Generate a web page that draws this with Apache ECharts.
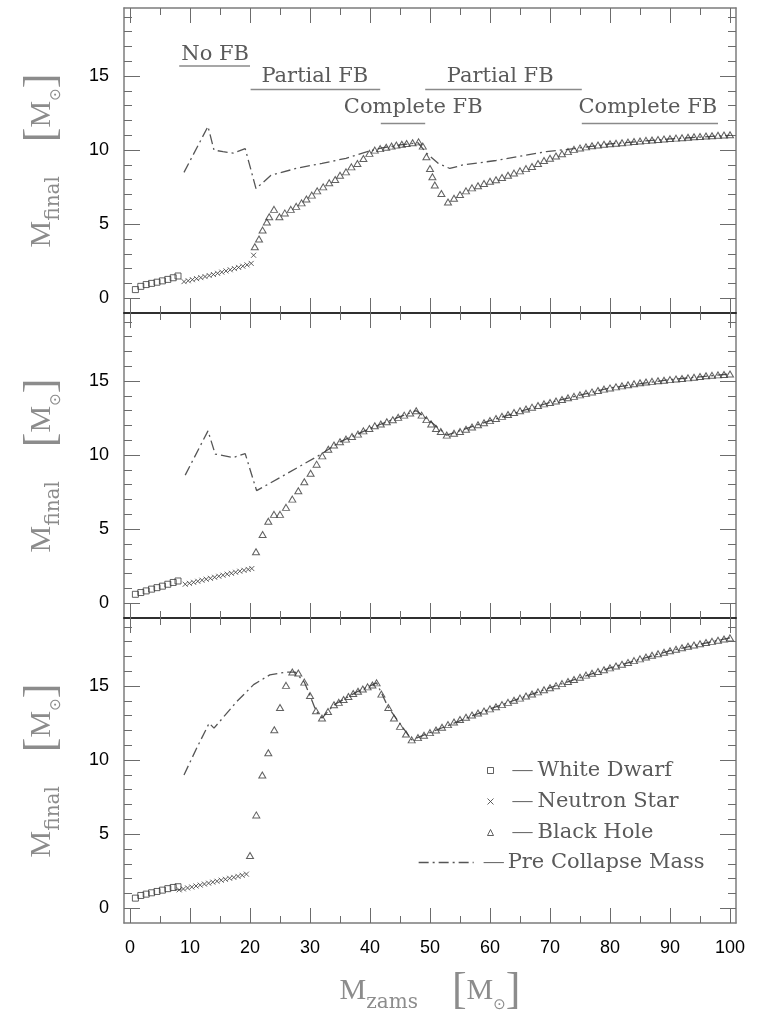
<!DOCTYPE html>
<html><head><meta charset="utf-8">
<script src="https://cdn.jsdelivr.net/npm/echarts@6/dist/echarts.min.js"></script>
<style>html,body{margin:0;padding:0;background:#fff}#c{width:761px;height:1021px}</style>
</head><body><div id="c"></div><script>
// ---------- axis ticks / labels ----------
const xMajor = [0, 10, 20, 30, 40, 50, 60, 70, 80, 90, 100];
const xMinor = [5, 15, 25, 35, 45, 55, 65, 75, 85, 95];
const yMajor = [0, 5, 10, 15];
const yMinor = [1, 2, 3, 4, 6, 7, 8, 9, 11, 12, 13, 14, 16, 17, 18, 19];

// ---------- white dwarfs ----------
const wdX = [0.9, 1.8, 2.7, 3.6, 4.5, 5.4, 6.3, 7.2, 8.0];
const wdTopY = [0.58, 0.80, 0.92, 1.00, 1.08, 1.17, 1.27, 1.38, 1.50];
const wdMidY = [0.60, 0.72, 0.83, 0.95, 1.05, 1.15, 1.28, 1.40, 1.50];
const wdBotY = [0.68, 0.86, 0.95, 1.04, 1.13, 1.22, 1.32, 1.40, 1.45];

// ---------- neutron stars ----------
const nsTopX = [9.0, 9.7, 10.4, 11.1, 11.8, 12.5, 13.2, 13.9, 14.6, 15.3, 16.0, 16.7, 17.4, 18.1, 18.8, 19.5, 20.2, 20.6];
const nsTopY = [1.12, 1.18, 1.25, 1.32, 1.39, 1.46, 1.53, 1.60, 1.68, 1.76, 1.84, 1.92, 2.00, 2.08, 2.16, 2.25, 2.35, 2.90];
const nsMidX = [9.2, 9.9, 10.6, 11.3, 12.0, 12.7, 13.4, 14.1, 14.8, 15.5, 16.2, 16.9, 17.6, 18.3, 19.0, 19.7, 20.3];
const nsMidY = [1.28, 1.34, 1.41, 1.48, 1.55, 1.62, 1.68, 1.75, 1.82, 1.89, 1.96, 2.02, 2.09, 2.16, 2.22, 2.28, 2.34];
const nsBotX = [8.2, 8.9, 9.6, 10.3, 11.0, 11.7, 12.4, 13.1, 13.8, 14.5, 15.2, 15.9, 16.6, 17.3, 18.0, 18.7, 19.4];
const nsBotY = [1.24, 1.30, 1.37, 1.43, 1.50, 1.56, 1.63, 1.69, 1.76, 1.82, 1.89, 1.95, 2.02, 2.08, 2.15, 2.22, 2.30];

// ---------- black holes (low mass part, per panel) ----------
const bhTopX = [20.8, 21.5, 22.1, 22.8, 23.2, 24.0, 24.9, 25.8, 26.8, 27.7, 28.6, 29.4, 30.3, 31.2, 32.2, 33.2, 34.2, 35.0, 36.0, 36.9, 37.9, 38.9, 39.9, 40.8, 41.7, 42.7, 43.6, 44.4, 45.3, 46.1, 47.1, 48.1, 48.8, 49.4, 50.0, 50.4, 50.8, 51.9, 53.0];
const bhTopY = [3.47, 4.0, 4.6, 5.15, 5.5, 6.0, 5.5, 5.76, 6.0, 6.2, 6.44, 6.7, 6.96, 7.25, 7.52, 7.8, 8.02, 8.3, 8.53, 8.87, 9.1, 9.44, 9.78, 10.0, 10.1, 10.2, 10.27, 10.34, 10.4, 10.45, 10.5, 10.56, 10.27, 9.55, 8.76, 8.2, 7.64, 7.07, 6.5];
const bhMidX = [21.0, 22.1, 23.05, 24.0, 25.0, 26.0, 27.05, 28.05, 29.05, 30.1, 31.1, 32.05, 33.05, 34.0, 35.0, 36.0, 37.0, 38.0, 38.9, 39.9, 40.8, 41.8, 42.8, 43.8, 44.7, 45.7, 46.7, 47.7, 48.6, 49.4, 50.2, 51.0, 51.8, 52.8];
const bhMidY = [3.47, 4.64, 5.54, 6.0, 6.0, 6.47, 7.03, 7.59, 8.2, 8.78, 9.39, 9.95, 10.4, 10.68, 10.9, 11.08, 11.26, 11.42, 11.64, 11.8, 11.98, 12.1, 12.25, 12.39, 12.55, 12.7, 12.84, 13.0, 12.7, 12.4, 12.1, 11.8, 11.6, 11.35];
const bhBotX = [20.0, 21.05, 22.05, 23.05, 24.05, 25.0, 26.0, 27.05, 28.05, 29.05, 30.0, 31.0, 32.0, 33.0, 34.0, 34.8, 35.6, 36.4, 37.2, 38.0, 38.8, 39.6, 40.4, 41.1, 41.9, 43.05, 44.0, 45.0, 46.0, 46.95, 48.0, 49.0, 50.0, 51.0, 52.0, 53.0];
const bhBotY = [3.56, 6.3, 9.0, 10.5, 12.05, 13.56, 15.05, 15.95, 15.88, 15.27, 14.37, 13.33, 12.84, 13.29, 13.74, 13.9, 14.1, 14.3, 14.5, 14.65, 14.8, 14.95, 15.08, 15.22, 14.46, 13.56, 12.84, 12.28, 11.76, 11.37, 11.52, 11.68, 11.86, 12.04, 12.22, 12.4];

// ---------- black holes (high mass part, shared masses) ----------
const hiX = [54, 55, 56, 57, 58, 59, 60, 61, 62, 63, 64, 65, 66, 67, 68, 69, 70, 71, 72, 73, 74, 75, 76, 77, 78, 79, 80, 81, 82, 83, 84, 85, 86, 87, 88, 89, 90, 91, 92, 93, 94, 95, 96, 97, 98, 99, 100];
const bhTopHiY = [6.75, 7.0, 7.25, 7.45, 7.6, 7.75, 7.9, 8.0, 8.15, 8.3, 8.45, 8.6, 8.75, 8.9, 9.1, 9.3, 9.45, 9.6, 9.75, 9.9, 10.05, 10.15, 10.22, 10.3, 10.35, 10.4, 10.43, 10.46, 10.5, 10.54, 10.58, 10.62, 10.66, 10.69, 10.72, 10.75, 10.78, 10.81, 10.84, 10.87, 10.9, 10.92, 10.95, 10.97, 11.0, 11.02, 11.04];
const bhMidHiY = [11.48, 11.6, 11.75, 11.9, 12.05, 12.19, 12.33, 12.47, 12.62, 12.75, 12.88, 13.0, 13.12, 13.24, 13.35, 13.46, 13.56, 13.66, 13.76, 13.87, 13.97, 14.07, 14.17, 14.27, 14.37, 14.46, 14.54, 14.61, 14.68, 14.75, 14.82, 14.89, 14.94, 14.98, 15.02, 15.06, 15.1, 15.14, 15.18, 15.22, 15.26, 15.31, 15.36, 15.39, 15.42, 15.45, 15.48];
const bhBotHiY = [12.58, 12.75, 12.9, 13.05, 13.18, 13.32, 13.46, 13.6, 13.75, 13.9, 14.05, 14.19, 14.33, 14.47, 14.61, 14.75, 14.89, 15.03, 15.17, 15.31, 15.45, 15.6, 15.74, 15.87, 15.99, 16.11, 16.23, 16.36, 16.48, 16.6, 16.72, 16.84, 16.96, 17.08, 17.19, 17.29, 17.39, 17.49, 17.59, 17.69, 17.78, 17.86, 17.94, 18.02, 18.1, 18.18, 18.26];

// ---------- pre-collapse mass ----------
const preTopX = [9.0, 13.0, 14.0, 15.5, 17.2, 19.2, 21.0, 23.5, 28.0, 32.0, 36.0, 40.0, 42.0, 45.0, 48.0, 49.4, 51.4, 53.3, 55.5, 61.0, 69.4, 74.0, 80.0, 90.0, 100.0];
const preTopY = [8.5, 11.6, 10.0, 9.9, 9.8, 10.1, 7.4, 8.3, 8.8, 9.1, 9.45, 9.95, 10.15, 10.35, 10.5, 9.8, 9.1, 8.76, 9.0, 9.3, 9.9, 10.1, 10.42, 10.76, 11.0];
const preMidX = [9.2, 13.0, 14.2, 17.2, 19.2, 21.1, 25.5, 29.4, 32.0, 35.0, 40.0, 44.0, 47.7, 50.0, 52.8, 60.0, 70.0, 80.0, 90.0, 100.0];
const preMidY = [8.65, 11.64, 10.07, 9.84, 10.1, 7.6, 8.6, 9.5, 10.1, 10.9, 11.8, 12.45, 13.0, 12.3, 11.35, 12.33, 13.56, 14.54, 15.1, 15.48];
const preBotX = [9.0, 11.1, 13.2, 14.0, 17.8, 20.6, 23.3, 26.1, 27.5, 29.05, 30.0, 31.0, 32.0, 34.0, 38.0, 41.1, 43.05, 46.95, 50.0, 60.0, 70.0, 80.0, 90.0, 100.0];
const preBotY = [9.0, 10.8, 12.5, 12.16, 13.96, 15.1, 15.76, 15.95, 15.95, 15.27, 14.37, 13.33, 12.84, 13.74, 14.65, 15.22, 13.56, 11.37, 11.86, 13.46, 14.89, 16.23, 17.39, 18.26];

// ---------- fallback regime annotations (top panel) ----------
const fbLabels = ['No FB', 'Partial FB', 'Complete FB', 'Partial FB', 'Complete FB'];
const fbStart = [8.2, 20.1, 41.8, 49.2, 75.3];
const fbEnd = [20.0, 41.7, 49.2, 75.3, 98.0];
const fbLineY = [15.68, 14.1, 11.8, 14.1, 11.8];
const fbTextX = [14.2, 30.8, 47.2, 61.7, 86.3];
const fbTextY = [16.45, 14.95, 12.85, 14.95, 12.85];

const seriesNames = ['White Dwarf', 'Neutron Star', 'Black Hole', 'Pre Collapse Mass'];

// ---------- styling ----------
const FRAME = '#7c7c7c', SEP = '#222', TICK = '#6c6c6c', NAMEC = '#8c8c8c', MARK = '#3a3a3a';
const X_MIN = -1, X_MAX = 101, Y_MIN = -1, Y_MAX = 19.6;
const zip = (xs, ys) => xs.map((x, i) => [x, ys[i]]);

const nameRich = {
  m: {fontFamily: 'Liberation Serif', fontSize: 30, color: NAMEC, lineHeight: 44, verticalAlign: 'middle'},
  s: {fontFamily: 'DejaVu Serif', fontSize: 20, color: NAMEC, lineHeight: 20, verticalAlign: 'bottom'},
  g: {width: 34},
  b: {fontFamily: 'Liberation Serif', fontSize: 44, color: NAMEC, lineHeight: 44, verticalAlign: 'middle'},
  o: {fontFamily: 'DejaVu Sans', fontSize: 15, color: NAMEC, lineHeight: 20, verticalAlign: 'bottom'}
};

const grids = [0, 1, 2].map(g => ({left: 124, top: 8 + g * 305, width: 612, height: 305}));
const xAxes = [], yAxes = [];
[0, 1, 2].forEach(g => {
  const topC = g === 0 ? FRAME : SEP, botC = g === 2 ? FRAME : SEP;
  const base = {gridIndex: g, type: 'value', min: X_MIN, max: X_MAX, splitLine: {show: false}};
  xAxes.push(Object.assign({}, base, {
    position: 'bottom',
    axisLine: {show: true, onZero: false, lineStyle: {color: botC, width: 1.5}},
    axisTick: {show: true, inside: true, length: 15, customValues: xMajor, lineStyle: {color: TICK, width: 1}},
    axisLabel: g === 2 ? {show: true, customValues: xMajor, margin: 16, fontFamily: 'Liberation Sans', fontSize: 18, color: '#000'} : {show: false, customValues: xMajor},
    name: g === 2 ? '{m|M}{s|zams}{g| }{b|[}{m|M}{o|⊙}{b|]}' : '',
    nameLocation: 'middle', nameGap: 46,
    nameTextStyle: {rich: nameRich}
  }));
  xAxes.push(Object.assign({}, base, {position: 'bottom', axisLine: {show: false, onZero: false},
    axisTick: {show: true, inside: true, length: 7, customValues: xMinor, lineStyle: {color: TICK, width: 1}},
    axisLabel: {show: false, customValues: xMinor}}));
  xAxes.push(Object.assign({}, base, {position: 'top',
    axisLine: {show: true, onZero: false, lineStyle: {color: topC, width: 1.5}},
    axisTick: {show: true, inside: true, length: 15, customValues: xMajor, lineStyle: {color: TICK, width: 1}},
    axisLabel: {show: false, customValues: xMajor}}));
  xAxes.push(Object.assign({}, base, {position: 'top', axisLine: {show: false, onZero: false},
    axisTick: {show: true, inside: true, length: 7, customValues: xMinor, lineStyle: {color: TICK, width: 1}},
    axisLabel: {show: false, customValues: xMinor}}));

  const yb = {gridIndex: g, type: 'value', min: Y_MIN, max: Y_MAX, splitLine: {show: false}};
  yAxes.push(Object.assign({}, yb, {position: 'left',
    axisLine: {show: true, onZero: false, lineStyle: {color: FRAME, width: 1.5}},
    axisTick: {show: true, inside: true, length: 16, customValues: yMajor, lineStyle: {color: TICK, width: 1}},
    axisLabel: {show: true, customValues: yMajor, margin: 15, fontFamily: 'Liberation Sans', fontSize: 18, color: '#000'},
    name: '{m|M}{s|final}{g| }{b|[}{m|M}{o|⊙}{b|]}', nameLocation: 'middle', nameGap: 60,
    nameTextStyle: {rich: nameRich}}));
  yAxes.push(Object.assign({}, yb, {position: 'left', axisLine: {show: false, onZero: false},
    axisTick: {show: true, inside: true, length: 8, customValues: yMinor, lineStyle: {color: TICK, width: 1}},
    axisLabel: {show: false, customValues: yMinor}}));
  yAxes.push(Object.assign({}, yb, {position: 'right',
    axisLine: {show: true, onZero: false, lineStyle: {color: FRAME, width: 1.5}},
    axisTick: {show: true, inside: true, length: 16, customValues: yMajor, lineStyle: {color: TICK, width: 1}},
    axisLabel: {show: false, customValues: yMajor}}));
  yAxes.push(Object.assign({}, yb, {position: 'right', axisLine: {show: false, onZero: false},
    axisTick: {show: true, inside: true, length: 8, customValues: yMinor, lineStyle: {color: TICK, width: 1}},
    axisLabel: {show: false, customValues: yMinor}}));
});

const hollow = {color: 'rgba(255,255,255,0)', borderColor: MARK, borderWidth: 1};
const preLine = {color: '#555', width: 1.3, type: [10, 4, 2, 4]};
function panelSeries(g, wdY, nsX, nsY, bhX, bhY, bhHiY, preX, preY) {
  const ax = {xAxisIndex: g * 4, yAxisIndex: g * 4};
  return [
    Object.assign({type: 'line', name: seriesNames[3], data: zip(preX, preY), symbol: 'none', showSymbol: false, z: 2,
      lineStyle: preLine, itemStyle: {color: '#555', opacity: 0}, silent: true}, ax),
    Object.assign({type: 'scatter', name: seriesNames[0], data: zip(wdX, wdY), symbol: 'rect', symbolSize: 6, z: 3,
      itemStyle: hollow, silent: true}, ax),
    Object.assign({type: 'scatter', name: seriesNames[1], data: zip(nsX, nsY), symbol: 'path://M0,0L8,8M8,0L0,8', symbolSize: 5, z: 3,
      itemStyle: hollow, silent: true}, ax),
    Object.assign({type: 'scatter', name: seriesNames[2], data: zip(bhX, bhY).concat(zip(hiX, bhHiY)), symbol: 'triangle', symbolSize: [7, 6], z: 3,
      itemStyle: hollow, silent: true}, ax)
  ];
}

const series = [].concat(
  panelSeries(0, wdTopY, nsTopX, nsTopY, bhTopX, bhTopY, bhTopHiY, preTopX, preTopY),
  panelSeries(1, wdMidY, nsMidX, nsMidY, bhMidX, bhMidY, bhMidHiY, preMidX, preMidY),
  panelSeries(2, wdBotY, nsBotX, nsBotY, bhBotX, bhBotY, bhBotHiY, preBotX, preBotY)
);

series.push({
  type: 'custom', xAxisIndex: 0, yAxisIndex: 0, silent: true, clip: false, z: 4,
  data: fbLabels.map((_, i) => [i]),
  renderItem: function (params, api) {
    const i = params.dataIndex;
    const p1 = api.coord([fbStart[i], fbLineY[i]]);
    const p2 = api.coord([fbEnd[i], fbLineY[i]]);
    const pt = api.coord([fbTextX[i], fbTextY[i]]);
    return {type: 'group', children: [
      {type: 'line', shape: {x1: p1[0], y1: p1[1], x2: p2[0], y2: p2[1]}, style: {stroke: '#8a8a8a', lineWidth: 1.5}},
      {type: 'text', x: pt[0], y: pt[1], style: {text: fbLabels[i], fill: '#5a5a5a', fontFamily: 'DejaVu Serif', fontSize: 21, align: 'center', verticalAlign: 'middle'}}
    ]};
  }
});

const legendRich1 = {
  p: {width: 14},
  d: {fontFamily: 'Liberation Serif', fontSize: 20, color: '#666', width: 25, lineHeight: 20},
  t: {fontFamily: 'DejaVu Serif', fontSize: 21, color: '#5a5a5a', lineHeight: 20}
};
const legendRich2 = Object.assign({}, legendRich1, {p: {width: 5}, d: Object.assign({}, legendRich1.d, {width: 24})});
const legendFmt = n => '{p|}{d|—}{t|' + n + '}';

const option = {
  animation: false,
  backgroundColor: '#fff',
  grid: grids,
  xAxis: xAxes,
  yAxis: yAxes,
  legend: [
    {data: seriesNames.slice(0, 3), orient: 'vertical', left: 487, top: 760, padding: 0, itemWidth: 6, itemHeight: 6,
      itemGap: 10, itemTextGap: 5, selectedMode: false, formatter: legendFmt, textStyle: {rich: legendRich1},
      itemStyle: {color: 'rgba(255,255,255,0)', borderColor: MARK, borderWidth: 1}},
    {data: [seriesNames[3]], orient: 'vertical', left: 418, top: 852, padding: 0, itemWidth: 55, itemHeight: 8,
      itemTextGap: 5, selectedMode: false, formatter: legendFmt, textStyle: {rich: legendRich2},
      itemStyle: {opacity: 0}, lineStyle: preLine}
  ],
  series: series
};

const chart = echarts.init(document.getElementById('c'), null, {renderer: 'canvas'});
chart.setOption(option);
</script></body></html>
